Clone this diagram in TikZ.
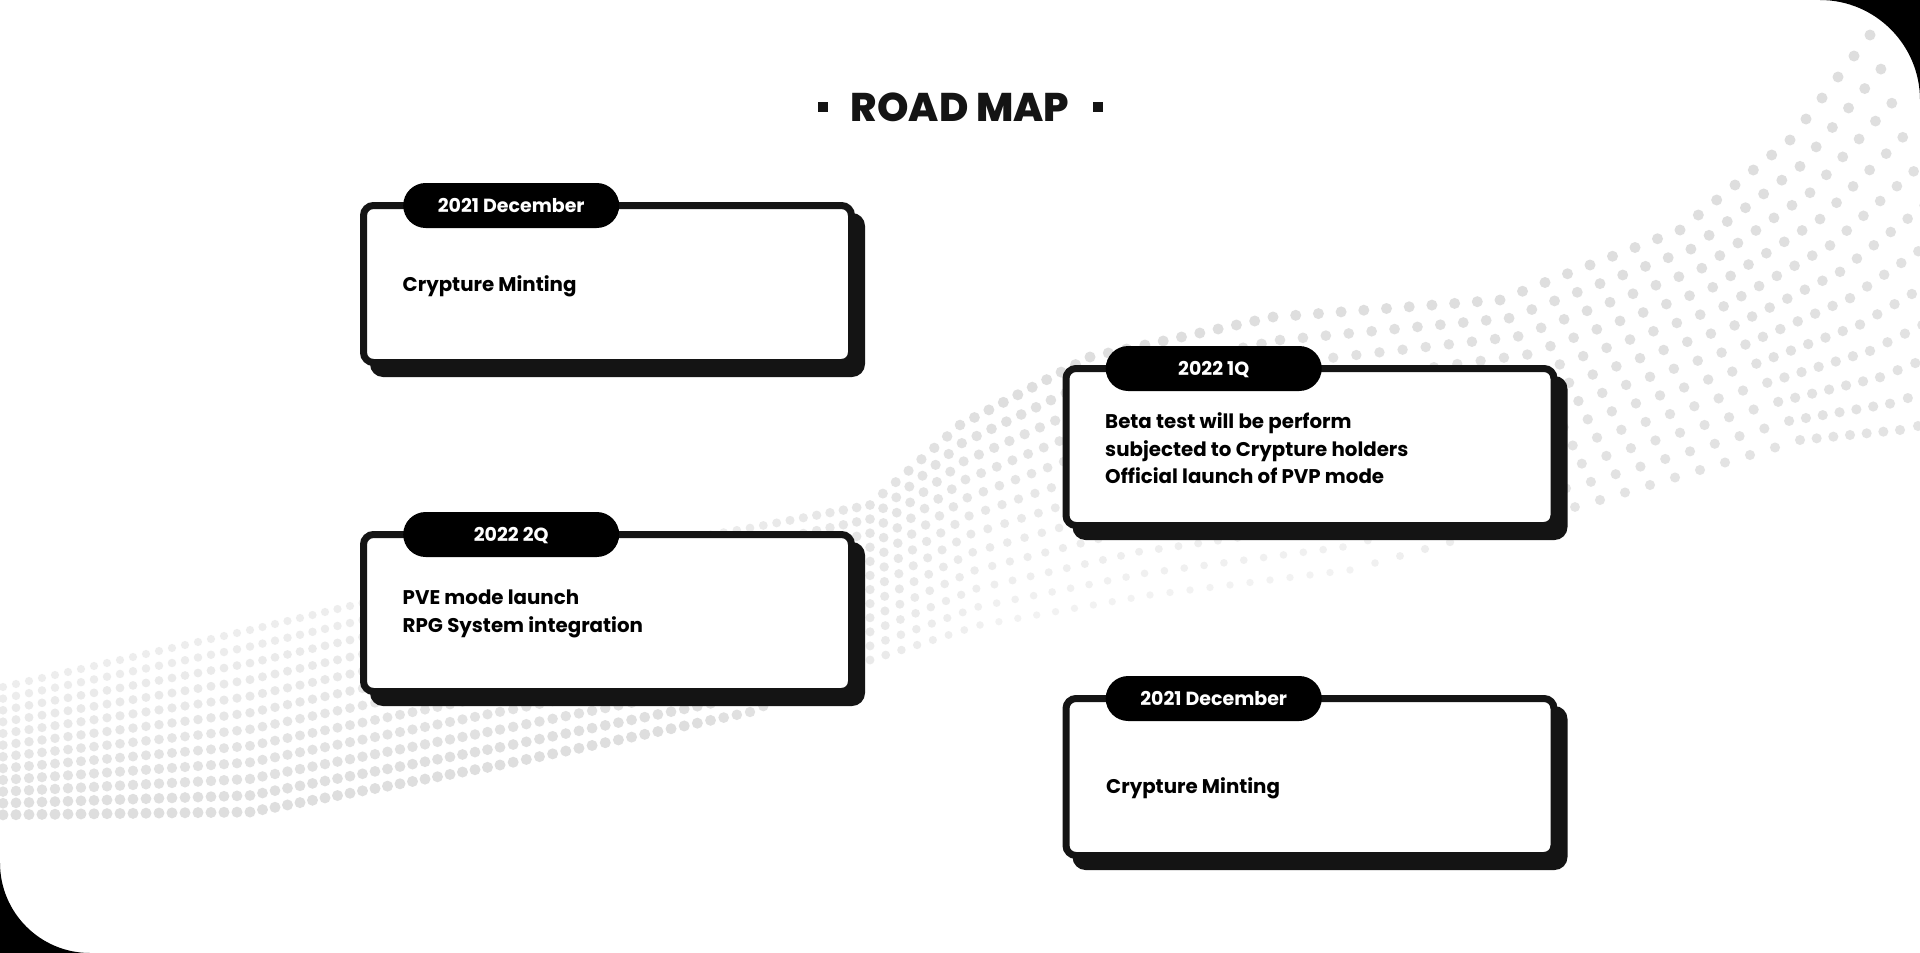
\documentclass[tikz,border=0pt]{standalone}
\usepackage{fontspec}
\setmainfont{Poppins}
\newfontfamily\headfont{Poppins ExtraBold}
\usetikzlibrary{positioning,backgrounds}
\definecolor{ink}{RGB}{20,20,20}
\definecolor{dotgrey}{RGB}{222,222,222}

\begin{document}
\begin{tikzpicture}[x=1pt,y=-1pt,
  card/.style={draw=ink,line width=7pt,fill=white,rounded corners=10pt,minimum width=488pt,minimum height=157pt,inner sep=0pt,outer sep=0pt},
  shade/.style={fill=ink,rounded corners=13pt,minimum width=495pt,minimum height=164pt,inner sep=0pt},
  tag/.style={fill=black,rounded corners=22.5pt,minimum width=216pt,minimum height=45pt,inner sep=0pt,text=white,text height=13.2pt,text depth=0pt,font=\fontsize{19}{23}\selectfont\bfseries},
  body/.style={font=\fontsize{19.8}{27.3}\selectfont\bfseries,text=black,align=left,inner sep=0pt,anchor=base west},
  sq/.style={fill=ink,minimum size=10pt,inner sep=0pt}]
\useasboundingbox (0,0) rectangle (1920,953);

% panel and dotted wave
\begin{scope}[on background layer]
\fill[white] (0,0) rectangle (1920,953);
\fill[black] (1820,0) -- (1920,0) -- (1920,100) arc[start angle=0,end angle=90,radius=100pt] -- cycle;
\fill[black] (0,863) -- (0,953) -- (90,953) arc[start angle=270,end angle=180,radius=90pt] -- cycle;
\foreach \ax/\ay/\bx/\by/\cx/\cy/\dx/\dy/\n in {
  -10/690/-10/815/250/630/250/812/20,
  250/630/250/812/500/570/500/765/20,
  500/570/500/765/750/528/750/712/19,
  750/528/750/712/870/505/870/660/9,
  870/505/870/660/960/425/980/625/7,
  960/425/980/625/1090/357/1150/595/9,
  1090/357/1150/595/1273/317/1350/570/10,
  1273/317/1350/570/1500/300/1600/500/10,
  1500/300/1600/500/1680/230/1800/440/8,
  1680/230/1800/440/1790/140/1900/430/6,
  1790/140/1900/430/1870/35/1990/410/5}
  \foreach \j in {0,...,11}
    \foreach \k in {1,...,\n} {
      \pgfmathsetmacro\s{\j/11}
      \pgfmathsetmacro\q{\k/\n}
      \pgfmathsetmacro\px{(1-\s)*(\ax+(\cx-\ax)*\q)+\s*(\bx+(\dx-\bx)*\q)}
      \pgfmathsetmacro\py{(1-\s)*(\ay+(\cy-\ay)*\q)+\s*(\by+(\dy-\by)*\q)}
      \pgfmathsetmacro\w{min(max((\px-700)/300,0),1)}
      \pgfmathsetmacro\v{min(max((\px-1350)/250,0),1)}
      \pgfmathsetmacro\p{(1-\w)*(55+45*\s)+\w*((1-\v)*(100-60*\s)+\v*(100-15*\s))}
      \pgfmathsetmacro\r{2.4+3.1*\p/100}
      \fill[dotgrey!\p!white] (\px,\py) circle[radius=\r pt];
    }
\end{scope}

% title
\node[font=\headfont\fontsize{40}{48}\selectfont,text=ink,inner sep=0pt,anchor=base] (head) at (960,121) {ROAD MAP};
\node[sq,left=23pt of head] (ml) {};
\node[sq,right=23pt of head] (mr) {};

% cards
\node[card] (c1) at (607.5,284) {};
\node[card] (c2) at (607.5,613) {};
\node[card] (c3) at (1310,447) {};
\node[card] (c4) at (1310,777) {};

\begin{scope}[on background layer]
\node[shade] (s1) at ([shift={(10,11)}]c1.center) {};
\node[shade] (s2) at ([shift={(10,11)}]c2.center) {};
\node[shade] (s3) at ([shift={(10,11)}]c3.center) {};
\node[shade] (s4) at ([shift={(10,11)}]c4.center) {};
\end{scope}

% dates
\node[tag,right=39.5pt of c1.north west] (d1) {2021 December};
\node[tag,right=39.5pt of c2.north west] (d2) {2022 2Q};
\node[tag,right=39.5pt of c3.north west] (d3) {2022 1Q};
\node[tag,right=39.5pt of c4.north west] (d4) {2021 December};

% texts (base = last line)
\node[body] (b1) at (402.5,291) {Crypture Minting};
\node[body] (b2) at (402.5,632) {PVE mode launch\\RPG System integration};
\node[body] (b3) at (1105,483.5) {Beta test will be perform\\subjected to Crypture holders\\Official launch of PVP mode};
\node[body] (b4) at (1106,793) {Crypture Minting};

\end{tikzpicture}
\end{document}
